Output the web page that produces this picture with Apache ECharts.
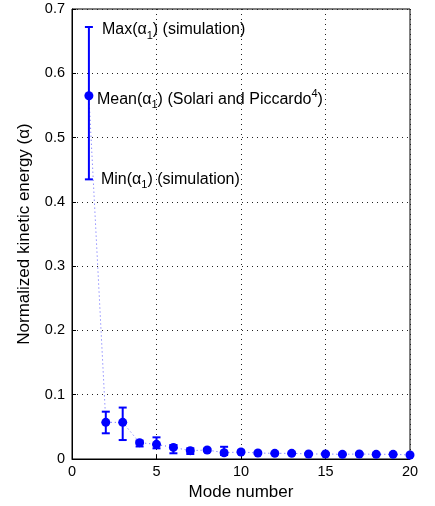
<!DOCTYPE html>
<html lang="en">
<head>
    <meta charset="UTF-8">
    <title>Normalized kinetic energy</title>
</head>
<body style="margin:0;background:#fff;">
    <div id="chart" style="width:435px;height:506px;"></div>
    <script src="https://cdn.jsdelivr.net/npm/echarts@6/dist/echarts.min.js"></script>
    <script type="text/javascript">
       var modes = [1, 2, 3, 4, 5, 6, 7, 8, 9, 10, 11, 12, 13, 14, 15, 16, 17, 18, 19, 20];
       var meanVals = [0.565, 0.057, 0.057, 0.0254, 0.0228, 0.018, 0.013, 0.014, 0.0098, 0.0109,
                       0.0093, 0.0088, 0.0088, 0.0078, 0.0078, 0.0073, 0.0078, 0.0073, 0.0073, 0.0062];
       var maxVals = [0.672, 0.0736, 0.080, 0.0285, 0.0337, 0.0218, 0.0166, 0.016, 0.019, 0.013,
                      0.011, 0.010, 0.010, 0.009, 0.009, 0.0085, 0.009, 0.0085, 0.0085, 0.0072];
       var minVals = [0.435, 0.040, 0.0295, 0.0195, 0.0166, 0.0089, 0.0078, 0.012, 0.0062, 0.009,
                      0.0078, 0.0076, 0.0076, 0.0066, 0.0066, 0.0062, 0.0066, 0.0062, 0.0062, 0.0052];
       var xTicks = [0, 5, 10, 15, 20];
       var yTicks = [0, 0.1, 0.2, 0.3, 0.4, 0.5, 0.6, 0.7];

       var BLUE = '#0000ff';
       var FONT = 'Liberation Sans, Arial, sans-serif';

       var meanData = modes.map(function (m, i) { return [m, meanVals[i]]; });
       var barData = modes.map(function (m, i) { return [m, minVals[i], maxVals[i]]; });

       // sub/superscript text pieces
       var rich = {
           a: { fontSize: 16, fontFamily: FONT, color: '#000' },
           s: { fontSize: 11, fontFamily: FONT, color: '#000', padding: [11, 0, 0, 0] },
           u: { fontSize: 11, fontFamily: FONT, color: '#000', padding: [0, 0, 11, 0] }
       };
       var notes = {
           max: '{a|Max(α}{s|1}{a|) (simulation)}',
           mean: '{a|Mean(α}{s|1}{a|) (Solari and Piccardo}{u|4}{a|)}',
           min: '{a|Min(α}{s|1}{a|) (simulation)}'
       };

       var myChart = echarts.init(document.getElementById('chart'));
       var option = {
           animation: false,
           grid: { left: 72, right: 25, top: 9, bottom: 47, show: true, borderColor: '#000', borderWidth: 1 },
           xAxis: {
               type: 'value', min: 0, max: 20, interval: 5,
               name: 'Mode number', nameLocation: 'middle', nameGap: 23,
               nameTextStyle: { fontSize: 17, fontFamily: FONT, color: '#000' },
               axisLine: { show: true, onZero: false, lineStyle: { color: '#000' } },
               axisTick: { inside: true, length: 4, lineStyle: { color: '#000' } },
               axisLabel: { fontSize: 14.5, fontFamily: FONT, color: '#000', margin: 5 },
               splitLine: { show: true, lineStyle: { color: '#222', type: [1, 4], width: 1 } }
           },
           yAxis: {
               type: 'value', min: 0, max: 0.7, interval: 0.1,
               name: 'Normalized kinetic energy (α)', nameLocation: 'middle', nameGap: 39,
               nameTextStyle: { fontSize: 17, fontFamily: FONT, color: '#000' },
               axisLine: { show: true, lineStyle: { color: '#000' } },
               axisTick: { inside: true, length: 4, lineStyle: { color: '#000' } },
               axisLabel: { fontSize: 14.5, fontFamily: FONT, color: '#000', margin: 7,
                   formatter: function (v) { return String(Math.round(v * 10) / 10); } },
               splitLine: { show: true, lineStyle: { color: '#222', type: [1, 4], width: 1 } }
           },
           series: [
               {
                   name: 'mean line',
                   type: 'line',
                   data: meanData,
                   symbol: 'none',
                   lineStyle: { color: '#5a5aff', width: 1, type: [1, 3] },
                   z: 1
               },
               {
                   name: 'error bars',
                   type: 'custom',
                   data: barData,
                   z: 2,
                   renderItem: function (params, api) {
                       var x = api.value(0);
                       var lo = api.coord([x, api.value(1)]);
                       var hi = api.coord([x, api.value(2)]);
                       var cw = 4;
                       var children = [
                           { type: 'line', shape: { x1: lo[0], y1: lo[1], x2: hi[0], y2: hi[1] }, style: { stroke: BLUE, lineWidth: 2 } },
                           { type: 'line', shape: { x1: lo[0] - cw, y1: lo[1], x2: lo[0] + cw, y2: lo[1] }, style: { stroke: BLUE, lineWidth: 2 } },
                           { type: 'line', shape: { x1: hi[0] - cw, y1: hi[1], x2: hi[0] + cw, y2: hi[1] }, style: { stroke: BLUE, lineWidth: 2 } }
                       ];
                       if (params.dataIndex === 0) {
                           var mid = api.coord([x, meanVals[0]]);
                           children.push(
                               { type: 'text', x: hi[0] + 13, y: hi[1] + 3, style: { text: notes.max, rich: rich, verticalAlign: 'middle', align: 'left' } },
                               { type: 'text', x: mid[0] + 8, y: mid[1] + 4, style: { text: notes.mean, rich: rich, verticalAlign: 'middle', align: 'left' } },
                               { type: 'text', x: lo[0] + 12, y: lo[1], style: { text: notes.min, rich: rich, verticalAlign: 'middle', align: 'left' } }
                           );
                       }
                       return { type: 'group', children: children };
                   }
               },
               {
                   name: 'mean',
                   type: 'scatter',
                   data: meanData,
                   symbol: 'circle',
                   symbolSize: 9,
                   itemStyle: { color: BLUE, opacity: 1 },
                   z: 3
               }
           ]
       };
       myChart.setOption(option);
    </script>
</body>
</html>
